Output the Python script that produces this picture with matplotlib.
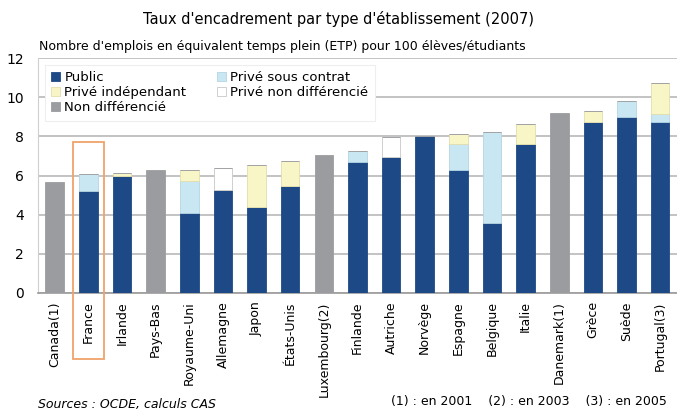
import numpy as np
import matplotlib.pyplot as plt
from matplotlib.patches import Rectangle

pays = ["Canada(1)", "France", "Irlande", "Pays-Bas", "Royaume-Uni", "Allemagne",
        "Japon", "États-Unis", "Luxembourg(2)", "Finlande", "Autriche", "Norvège",
        "Espagne", "Belgique", "Italie", "Danemark(1)", "Grèce", "Suède", "Portugal(3)"]

public = [0, 5.2, 6.0, 0, 4.1, 5.25, 4.4, 5.45, 0, 6.7, 6.95, 8.0,
          6.3, 3.55, 7.63, 0, 8.74, 9.0, 8.74]
prive_contrat = [0, 0.9, 0, 0, 1.6, 0, 0, 0, 0, 0.55, 0, 0,
                 1.3, 4.68, 0, 0, 0, 0.81, 0.39]
prive_indep = [0, 0, 0.15, 0, 0.6, 0, 2.15, 1.3, 0, 0, 0, 0,
               0.5, 0, 1.0, 0, 0.55, 0, 1.6]
prive_non_diff = [0, 0, 0, 0, 0, 1.15, 0, 0, 0, 0, 1.02, 0,
                  0, 0, 0, 0, 0, 0, 0]
non_diff = [5.65, 0, 0, 6.3, 0, 0, 0, 0, 7.05, 0, 0, 0,
            0, 0, 0, 9.2, 0, 0, 0]

series = [
    ("Public", public, "#1d4a86", "#1d4a86"),
    ("Privé sous contrat", prive_contrat, "#c8e7f3", "#b5d5e3"),
    ("Privé indépendant", prive_indep, "#f8f6c6", "#e3deaa"),
    ("Privé non différencié", prive_non_diff, "#ffffff", "#c8c8c8"),
    ("Non différencié", non_diff, "#9b9c9f", "#9b9c9f"),
]

plt.rcParams['font.family'] = ['DejaVu Sans']

fig = plt.figure(figsize=(6.77, 4.12), dpi=100)
ax = fig.add_axes([0.056, 0.289, 0.944, 0.570])

x = np.arange(len(pays))
bottom = np.zeros(len(pays))
handles = {}
for name, vals, color, edge in series:
    vals = np.array(vals)
    b = ax.bar(x, vals, 0.55, bottom=bottom, color=color, edgecolor=edge,
               linewidth=0.6, zorder=3, label=name)
    handles[name] = b
    bottom += vals

ax.set_xlim(-0.5, len(pays) - 0.5)
ax.set_ylim(0, 12)
ax.set_yticks(range(0, 13, 2))
ax.yaxis.grid(True, color="#b9b9b9", linewidth=1.2, zorder=0)
ax.set_xticks(x)
ax.set_xticklabels(pays, rotation=90, fontsize=9)
ax.tick_params(axis="both", length=0, pad=6)
ax.tick_params(axis="y", labelsize=10, pad=10)
for s in ["top", "right"]:
    ax.spines[s].set_visible(False)
ax.spines["left"].set_color("#cfcfcf")
ax.spines["bottom"].set_color("#9a9a9a")
ax.spines["bottom"].set_linewidth(1.2)

order = ["Public", "Privé indépendant", "Non différencié",
         "Privé sous contrat", "Privé non différencié"]
leg = ax.legend([handles[n] for n in order], order, ncol=2, loc="upper left",
                bbox_to_anchor=(0.0, 1.0), fontsize=9.5, frameon=True,
                fancybox=False, edgecolor="#eeeeee", framealpha=1,
                handlelength=0.7, handleheight=0.7, handletextpad=0.3,
                columnspacing=2.3, labelspacing=0.15, borderpad=0.5)
leg.get_frame().set_linewidth(0.8)
leg.set_zorder(5)

# cadre orange autour de la France
ax.add_patch(Rectangle((0.54, -3.38), 0.92, 11.08, fill=False,
                       edgecolor="#f0a36a", linewidth=1.3, clip_on=False, zorder=6))

fig.text(0.5, 0.955, "Taux d'encadrement par type d'établissement (2007)",
         ha="center", va="center", fontsize=10.5)
fig.text(0.058, 0.886, "Nombre d'emplois en équivalent temps plein (ETP) pour 100 élèves/étudiants",
         ha="left", va="center", fontsize=9)
fig.text(0.056, 0.018, "Sources : OCDE, calculs CAS", ha="left", va="center",
         fontsize=9, style="italic")
fig.text(0.985, 0.025, "(1) : en 2001    (2) : en 2003    (3) : en 2005",
         ha="right", va="center", fontsize=9)

fig.savefig("out.png", dpi=100)
